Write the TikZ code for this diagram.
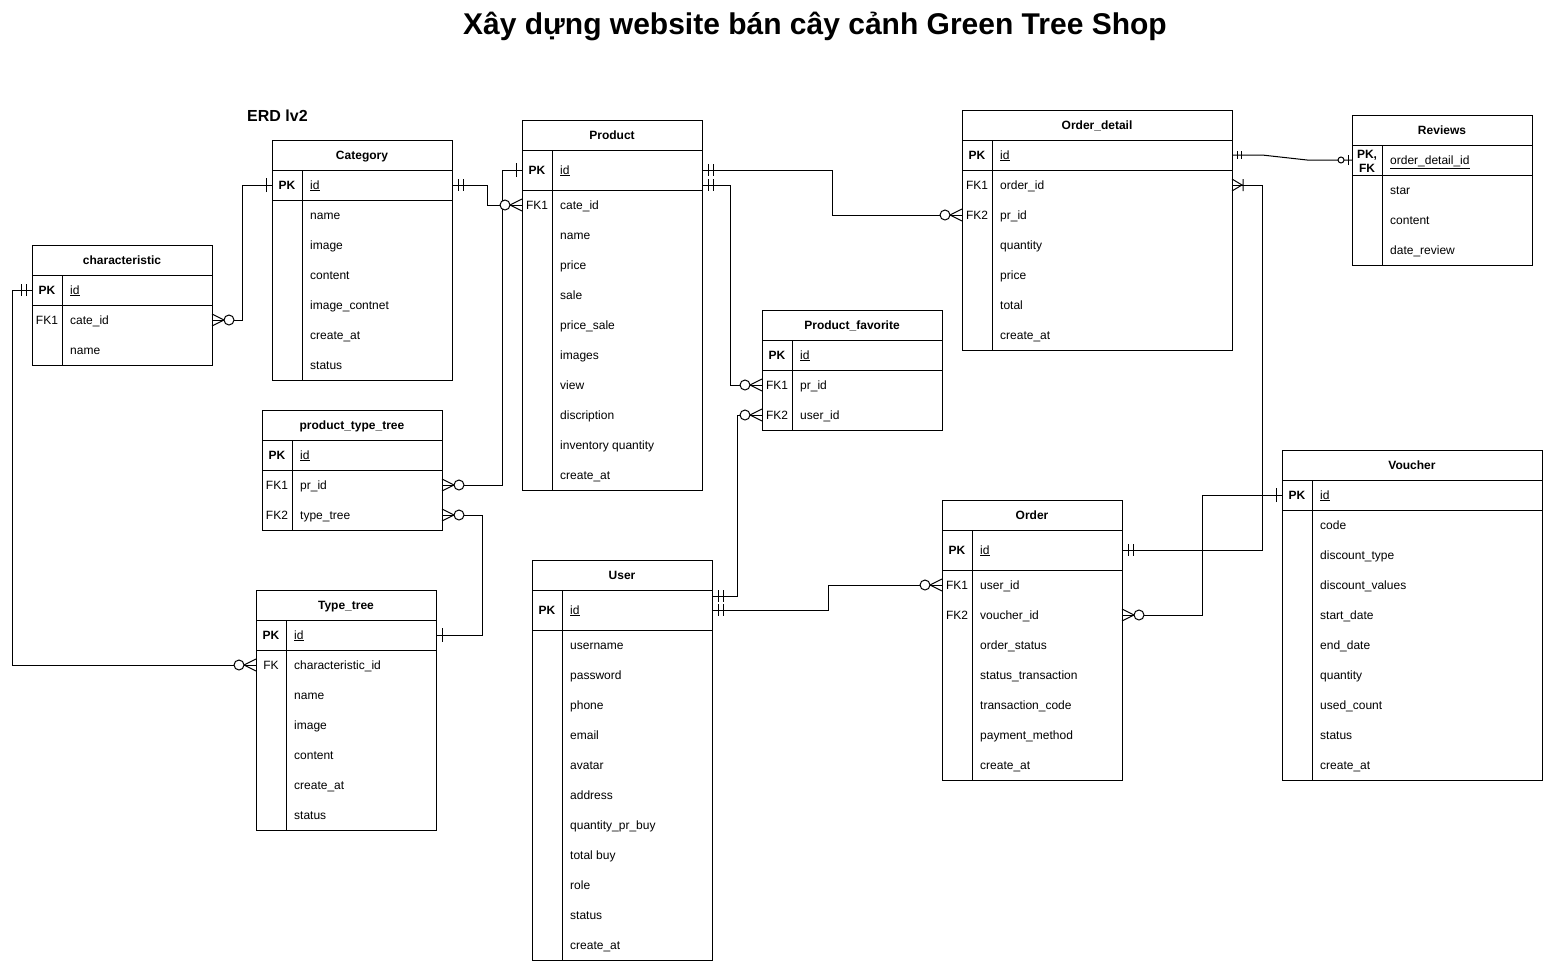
\documentclass[tikz,border=0pt]{standalone}
\usepackage{fontspec}
\setmainfont{Liberation Sans}
\usetikzlibrary{calc}
\newcommand\fs{\fontsize{12}{14}\selectfont}
\tikzset{
  tabbox/.style={draw=black, line width=1pt, inner sep=0pt, outer sep=0pt},
  tbl/.style={draw=black, line width=1pt},
  rowbox/.style={minimum height=30pt, inner sep=0pt, outer sep=0pt},
  fld/.style={anchor=base west, inner sep=0pt, font=\fs},
  keyt/.style={anchor=base, inner sep=0pt, font=\fs},
  hdr/.style={anchor=base, inner sep=0pt, font=\fs\bfseries},
  rel/.style={line width=1pt, draw=black},
  mandone/.pic={\draw[line width=1pt] (6,-6)--(6,6) (11,-6)--(11,6);},
  mandonesm/.pic={\draw[line width=1pt] (5,-4)--(5,4) (9,-4)--(9,4);},
  onebar/.pic={\draw[line width=1pt] (6,-7)--(6,7);},
  zmany/.pic={\draw[line width=1pt] (0,-6)--(12,0)--(0,6);
              \draw[line width=1pt,fill=white] (17,0) circle[radius=5pt];},
  omany/.pic={\draw[line width=1pt] (0,-6)--(10,0)--(0,6) (11,-6)--(11,6);},
  zone/.pic={\draw[line width=1pt] (4,-5)--(4,5);
             \draw[line width=1pt,fill=white] (11,0) circle[radius=3pt];},
}
% #1 name, #2 title, #3 x, #4 top, #5 width, #6 bottom, #7 pk-row bottom
\newcommand\ertab[7]{%
  \node[tabbox, minimum width=#5, minimum height={#6-#4}, anchor=north west] (#1) at (#3,#4) {};
  \node[hdr] at ({#3+#5/2},{#4+19}) {#2};
  \draw[tbl] (#3,{#4+30}) -- ({#3+#5},{#4+30});
  \draw[tbl] (#3,#7) -- ({#3+#5},#7);
  \draw[tbl] ({#3+30},{#4+30}) -- ({#3+30},#6);
}
% #1 name, #2 x, #3 width, #4 y centre, #5 key, #6 field
\newcommand\erow[6]{%
  \node[rowbox, minimum width=#3] (#1) at ({#2+#3/2},#4) {};
  \node[keyt] at ({#2+15},{#4+4}) {#5};
  \node[fld] at ({#2+38},{#4+4}) {#6};
}
\begin{document}
\begin{tikzpicture}[x=1pt,y=-1pt]
\fill[white] (0,0) rectangle (1543,961);
\useasboundingbox (0,0) rectangle (1543,961);

\node[font=\fontsize{30}{35}\selectfont\bfseries] (title) at (815,26) {Xây dựng website bán cây cảnh Green Tree Shop};
\node[font=\fontsize{16}{19}\selectfont\bfseries, anchor=base west, inner sep=0pt] (erd) at (247,121) {ERD lv2};

% Category
\ertab{cat}{Category}{272}{140}{180}{380}{200}
\erow{cat-id}{272}{180}{185}{\textbf{PK}}{\underline{id}}
\erow{cat-name}{272}{180}{215}{}{name}
\erow{cat-image}{272}{180}{245}{}{image}
\erow{cat-content}{272}{180}{275}{}{content}
\erow{cat-ic}{272}{180}{305}{}{image\_contnet}
\erow{cat-create}{272}{180}{335}{}{create\_at}
\erow{cat-status}{272}{180}{365}{}{status}

% characteristic
\ertab{ch}{characteristic}{32}{245}{180}{365}{305}
\erow{ch-id}{32}{180}{290}{\textbf{PK}}{\underline{id}}
\erow{ch-cate}{32}{180}{320}{FK1}{cate\_id}
\erow{ch-name}{32}{180}{350}{}{name}

% Product
\ertab{pr}{Product}{522}{120}{180}{490}{190}
\erow{pr-id}{522}{180}{170}{\textbf{PK}}{\underline{id}}
\erow{pr-cate}{522}{180}{205}{FK1}{cate\_id}
\erow{pr-name}{522}{180}{235}{}{name}
\erow{pr-price}{522}{180}{265}{}{price}
\erow{pr-sale}{522}{180}{295}{}{sale}
\erow{pr-ps}{522}{180}{325}{}{price\_sale}
\erow{pr-images}{522}{180}{355}{}{images}
\erow{pr-view}{522}{180}{385}{}{view}
\erow{pr-disc}{522}{180}{415}{}{discription}
\erow{pr-inv}{522}{180}{445}{}{inventory quantity}
\erow{pr-create}{522}{180}{475}{}{create\_at}

% product_type_tree
\ertab{ptt}{product\_type\_tree}{262}{410}{180}{530}{470}
\erow{ptt-id}{262}{180}{455}{\textbf{PK}}{\underline{id}}
\erow{ptt-pr}{262}{180}{485}{FK1}{pr\_id}
\erow{ptt-tt}{262}{180}{515}{FK2}{type\_tree}

% Type_tree
\ertab{tt}{Type\_tree}{256}{590}{180}{830}{650}
\erow{tt-id}{256}{180}{635}{\textbf{PK}}{\underline{id}}
\erow{tt-ch}{256}{180}{665}{FK}{characteristic\_id}
\erow{tt-name}{256}{180}{695}{}{name}
\erow{tt-image}{256}{180}{725}{}{image}
\erow{tt-content}{256}{180}{755}{}{content}
\erow{tt-create}{256}{180}{785}{}{create\_at}
\erow{tt-status}{256}{180}{815}{}{status}

% User
\ertab{us}{User}{532}{560}{180}{960}{630}
\erow{us-id}{532}{180}{610}{\textbf{PK}}{\underline{id}}
\erow{us-un}{532}{180}{645}{}{username}
\erow{us-pw}{532}{180}{675}{}{password}
\erow{us-ph}{532}{180}{705}{}{phone}
\erow{us-em}{532}{180}{735}{}{email}
\erow{us-av}{532}{180}{765}{}{avatar}
\erow{us-ad}{532}{180}{795}{}{address}
\erow{us-qb}{532}{180}{825}{}{quantity\_pr\_buy}
\erow{us-tb}{532}{180}{855}{}{total buy}
\erow{us-ro}{532}{180}{885}{}{role}
\erow{us-st}{532}{180}{915}{}{status}
\erow{us-cr}{532}{180}{945}{}{create\_at}

% Product_favorite
\ertab{pf}{Product\_favorite}{762}{310}{180}{430}{370}
\erow{pf-id}{762}{180}{355}{\textbf{PK}}{\underline{id}}
\erow{pf-pr}{762}{180}{385}{FK1}{pr\_id}
\erow{pf-us}{762}{180}{415}{FK2}{user\_id}

% Order_detail
\ertab{od}{Order\_detail}{962}{110}{270}{350}{170}
\erow{od-id}{962}{270}{155}{\textbf{PK}}{\underline{id}}
\erow{od-or}{962}{270}{185}{FK1}{order\_id}
\erow{od-pr}{962}{270}{215}{FK2}{pr\_id}
\erow{od-qt}{962}{270}{245}{}{quantity}
\erow{od-pc}{962}{270}{275}{}{price}
\erow{od-tt}{962}{270}{305}{}{total}
\erow{od-cr}{962}{270}{335}{}{create\_at}

% Reviews
\ertab{rv}{Reviews}{1352}{115}{180}{265}{175}
\node[rowbox, minimum width=180] (rv-pk) at (1442,160) {};
\node[font=\fontsize{12}{14}\selectfont\bfseries, align=center, inner sep=0pt] at (1367,161) {PK,\\FK};
\node[fld] at (1390,164) {\underline{order\_detail\_id}};
\erow{rv-star}{1352}{180}{190}{}{star}
\erow{rv-content}{1352}{180}{220}{}{content}
\erow{rv-date}{1352}{180}{250}{}{date\_review}

% Order
\ertab{ord}{Order}{942}{500}{180}{780}{570}
\erow{ord-id}{942}{180}{550}{\textbf{PK}}{\underline{id}}
\erow{ord-us}{942}{180}{585}{FK1}{user\_id}
\erow{ord-vo}{942}{180}{615}{FK2}{voucher\_id}
\erow{ord-os}{942}{180}{645}{}{order\_status}
\erow{ord-st}{942}{180}{675}{}{status\_transaction}
\erow{ord-tc}{942}{180}{705}{}{transaction\_code}
\erow{ord-pm}{942}{180}{735}{}{payment\_method}
\erow{ord-cr}{942}{180}{765}{}{create\_at}

% Voucher
\ertab{vo}{Voucher}{1282}{450}{260}{780}{510}
\erow{vo-id}{1282}{260}{495}{\textbf{PK}}{\underline{id}}
\erow{vo-code}{1282}{260}{525}{}{code}
\erow{vo-dt}{1282}{260}{555}{}{discount\_type}
\erow{vo-dv}{1282}{260}{585}{}{discount\_values}
\erow{vo-sd}{1282}{260}{615}{}{start\_date}
\erow{vo-ed}{1282}{260}{645}{}{end\_date}
\erow{vo-qt}{1282}{260}{675}{}{quantity}
\erow{vo-uc}{1282}{260}{705}{}{used\_count}
\erow{vo-st}{1282}{260}{735}{}{status}
\erow{vo-cr}{1282}{260}{765}{}{create\_at}

% ---------- connectors ----------
\coordinate (pr-fav) at ($(pr-id.east)+(0,15)$);
\coordinate (us-fav) at ($(us-id.east)+(0,-14)$);
\coordinate (rv-bend) at ($(rv-pk.west)+(-45,0)$);

\draw[rel] (cat-id.east) -- ++(35,0) |- (pr-cate.west);
\draw[rel] (ch-cate.east) -- ++(30,0) |- (cat-id.west);
\draw[rel] (ch-id.west) -- ++(-20,0) |- (tt-ch.west);
\draw[rel] (ptt-pr.east) -- ++(60,0) |- (pr-id.west);
\draw[rel] (pr-id.east) -- ++(130,0) |- (od-pr.west);
\draw[rel] (pr-fav) -- ++(28,0) |- (pf-pr.west);
\draw[rel] (ptt-tt.east) -- ++(40,0) |- (tt-id.east);
\draw[rel] (us-fav) -- ++(25,0) |- (pf-us.west);
\draw[rel] (us-id.east) -- ++(116,0) |- (ord-us.west);
\draw[rel] (ord-id.east) -- ++(140,0) |- (od-or.east);
\draw[rel] (ord-vo.east) -- ++(80,0) |- (vo-id.west);
\draw[rel] (od-id.east) -- ++(30,0) -- (rv-bend) -- (rv-pk.west);

% ---------- cardinality marks ----------
\pic at (cat-id.east) {mandone};
\pic[rotate=180] at (pr-cate.west) {zmany};
\pic at (ch-cate.east) {zmany};
\pic[rotate=180] at (cat-id.west) {onebar};
\pic[rotate=180] at (ch-id.west) {mandone};
\pic[rotate=180] at (tt-ch.west) {zmany};
\pic at (ptt-pr.east) {zmany};
\pic[rotate=180] at (pr-id.west) {onebar};
\pic at (pr-id.east) {mandone};
\pic[rotate=180] at (od-pr.west) {zmany};
\pic at (pr-fav) {mandone};
\pic[rotate=180] at (pf-pr.west) {zmany};
\pic at (ptt-tt.east) {zmany};
\pic at (tt-id.east) {onebar};
\pic at (us-fav) {mandone};
\pic[rotate=180] at (pf-us.west) {zmany};
\pic at (us-id.east) {mandone};
\pic[rotate=180] at (ord-us.west) {zmany};
\pic at (ord-id.east) {mandone};
\pic at (od-or.east) {omany};
\pic at (ord-vo.east) {zmany};
\pic[rotate=180] at (vo-id.west) {onebar};
\pic at (od-id.east) {mandonesm};
\pic[rotate=180] at (rv-pk.west) {zone};
\end{tikzpicture}
\end{document}
